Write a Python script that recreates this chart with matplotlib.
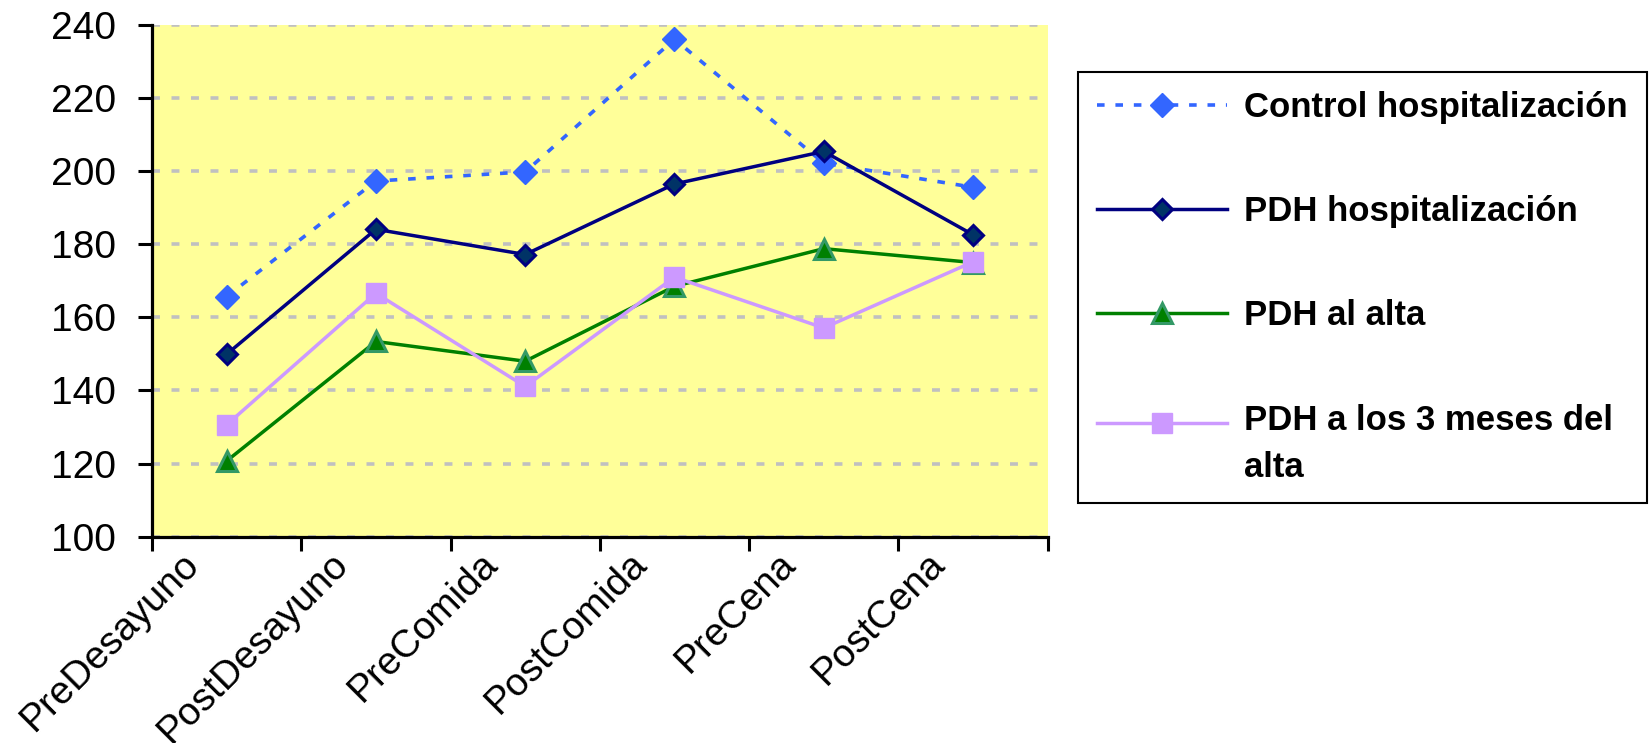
import numpy as np
import matplotlib
matplotlib.use("Agg")
import matplotlib.pyplot as plt
from matplotlib.transforms import ScaledTranslation
from matplotlib.legend_handler import HandlerLine2D

plt.rcParams['font.family'] = ['Liberation Sans', 'DejaVu Sans']

# ============================================================
# DATOS
# ============================================================
momentos = ["PreDesayuno", "PostDesayuno", "PreComida",
            "PostComida", "PreCena", "PostCena"]

control_hosp = [165.7, 197.3, 199.8, 236.1, 202.2, 195.6]
pdh_hosp     = [149.9, 184.1, 177.2, 196.5, 205.4, 182.6]
pdh_alta     = [120.7, 153.4, 148.0, 168.5, 178.8, 175.0]
pdh_3meses   = [130.6, 166.6, 141.1, 171.0, 157.1, 175.2]

etiquetas = ["Control hospitalización", "PDH hospitalización",
             "PDH al alta", "PDH a los 3 meses del\nalta"]

y_ticks = [100, 120, 140, 160, 180, 200, 220, 240]


# ============================================================
# HANDLER: marcador alineado con la primera linea del texto
# ============================================================
class HandlerPrimeraLinea(HandlerLine2D):
    def __init__(self, subir, **kw):
        super().__init__(**kw)
        self.subir = subir

    def create_artists(self, legend, orig_handle, xdescent, ydescent,
                       width, height, fontsize, trans):
        artistas = super().create_artists(legend, orig_handle, xdescent, ydescent,
                                          width, height, fontsize, trans)
        for a in artistas:
            a.set_ydata(np.asarray(a.get_ydata()) + self.subir * fontsize)
        return artistas


# ============================================================
# FIGURA
# ============================================================
fig = plt.figure(figsize=(16.52, 7.43), dpi=100)
ax = fig.add_axes([0.092, 0.2777, 0.5422, 0.6887])
ax.set_facecolor("#FFFF99")

x = np.arange(len(momentos)) + 0.5

l1, = ax.plot(x, control_hosp, color="#3366FF", lw=2.6, dashes=[2.1, 3.0],
              marker="D", ms=12, mfc="#3366FF", mec="#3366FF", mew=1, zorder=3)
l2, = ax.plot(x, pdh_hosp, color="#000080", lw=2.5,
              marker="D", ms=10.5, mfc="#003366", mec="#000080", mew=2.2, zorder=4)
l3, = ax.plot(x, pdh_alta, color="#008000", lw=2.5,
              marker="^", ms=15, mfc="#008000", mec="#339966", mew=2.2, zorder=5)
l4, = ax.plot(x, pdh_3meses, color="#CC99FF", lw=2.5,
              marker="s", ms=14, mfc="#CC99FF", mec="#CC99FF", mew=1, zorder=6)

# ejes
ax.set_xlim(0, len(momentos))
ax.set_ylim(100, 240)
ax.set_yticks(y_ticks)
ax.tick_params(axis="y", labelsize=28, length=10, width=2.2, pad=16)
ax.yaxis.grid(True, color="#C0C0C0", linewidth=2.6, linestyle=(0, (2.2, 3.2)))
ax.set_axisbelow(True)

ax.set_xticks(np.arange(len(momentos) + 1))
ax.set_xticklabels([])
ax.tick_params(axis="x", which="major", length=10, width=2.2)
ax.set_xticks(x, minor=True)
ax.set_xticklabels(momentos, minor=True, rotation=45, ha="right", va="top",
                   rotation_mode="anchor", fontsize=28)
ax.tick_params(axis="x", which="minor", length=0, pad=6.5)
desplazamiento = ScaledTranslation(-46 / 100, 0, fig.dpi_scale_trans)
for lbl in ax.get_xticklabels(minor=True):
    lbl.set_transform(lbl.get_transform() + desplazamiento)

for lado in ["top", "right"]:
    ax.spines[lado].set_visible(False)
for lado in ["left", "bottom"]:
    ax.spines[lado].set_linewidth(2.3)

# ============================================================
# LEYENDA
# ============================================================
leg = fig.legend(
    [l1, l2, l3, l4], etiquetas,
    loc="upper left",
    bbox_to_anchor=(1078 / 1652, 1 - 490 / 743, 569 / 1652, 418 / 743),
    bbox_transform=fig.transFigure,
    mode="expand", borderaxespad=0,
    prop={"weight": "bold", "size": 25},
    handlelength=3.75, handletextpad=0.47, labelspacing=2.05,
    borderpad=0.55, numpoints=1,
    fancybox=False, framealpha=1, edgecolor="black",
    handler_map={l4: HandlerPrimeraLinea(0.63)},
)
leg.get_frame().set_linewidth(1.5)
leg.get_texts()[-1].set_linespacing(1.55)

fig.savefig("out.png", dpi=100)
